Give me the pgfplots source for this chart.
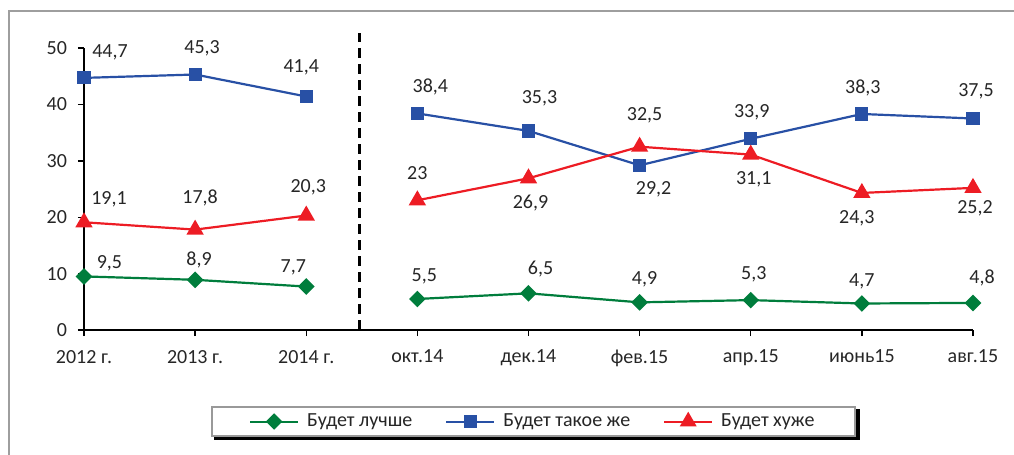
\documentclass[border=0pt]{standalone}
\usepackage{fontspec}
\setmainfont{Carlito}
\usepackage{pgfplots}
\usepackage{pgfplotstable}
\pgfplotsset{compat=1.18}

\definecolor{cGreen}{RGB}{0,125,60}
\definecolor{cBlue}{RGB}{40,80,165}
\definecolor{cRed}{RGB}{237,28,36}
\definecolor{cText}{RGB}{38,38,38}

% x y  label offset (dx, dy in pt)  label
\pgfplotstableread{
x y dx dy lbl
0 9.5 12.7 6.5 9,5
1 8.9 2 10 8,9
2 7.7 -6.5 9.8 7,7
3 5.5 3.5 11.5 5,5
4 6.5 6 12 6,5
5 4.9 2.5 11.5 4,9
6 5.3 1.5 13 5,3
7 4.7 0 11 4,7
8 4.8 4.5 12.5 4,8
}\better
\pgfplotstableread{
x y dx dy lbl
0 44.7 13 13 44,7
1 45.3 3.5 13 45,3
2 41.4 -2.5 14.7 41,4
3 38.4 6.5 13 38,4
4 35.3 5.5 16.5 35,3
5 29.2 7 -12 29,2
6 33.9 0.5 13.5 33,9
7 38.3 0.5 13 38,3
8 37.5 1.5 13.5 37,5
}\same
\pgfplotstableread{
x y dx dy lbl
0 19.1 12.5 11.5 19,1
1 17.8 2.5 16 17,8
2 20.3 1 14 20,3
3 23 0 13.5 23
4 26.9 1 -12.5 26,9
5 32.5 2.5 15.5 32,5
6 31.1 1.5 -12.5 31,1
7 24.3 -2.5 -12.5 24,3
8 25.2 1 -10 25,2
}\worse

\begin{document}
\fontsize{10}{12}\selectfont
\begin{tikzpicture}
\draw[black!38, line width=1pt] (-37.5pt,-80pt) rectangle (480pt,159.5pt);
\begin{axis}[
  at={(0,0)}, anchor=south west,
  scale only axis, width=444.5pt, height=141pt,
  xmin=0, xmax=8, ymin=0, ymax=50,
  axis lines*=left,
  axis line style={line width=1.3pt, black},
  tick align=outside, major tick length=3pt,
  tick style={black, line width=0.7pt},
  xtick={0,...,8},
  xticklabels={2012 г.,2013 г.,2014 г.,окт.14,дек.14,фев.15,апр.15,июнь15,авг.15},
  ytick={0,10,...,50},
  /pgf/number format/assume math mode=true,
  ticklabel style={text=cText},
  xticklabel style={yshift=-3.5pt},
  yticklabel style={xshift=-2pt},
  clip=false,
  legend columns=3,
  legend style={name=leg, at={(0.506,-0.3245)}, anchor=center, draw=black!40, line width=1pt,
    fill=white, inner xsep=18.5pt, inner ysep=1.4pt, text=cText,
    /tikz/every odd column/.append style={column sep=2pt},
    /tikz/every even column/.append style={column sep=14.5pt}},
  legend cell align=left,
  legend image code/.code={\draw[mark repeat=2,mark phase=2,#1] plot coordinates {(0pt,0pt)(12pt,0pt)(24pt,0pt)};},
  ser/.style={forget plot, line width=1.1pt, mark options={solid},
    nodes near coords={\pgfplotspointmeta},
    point meta=explicit symbolic,
    visualization depends on={\thisrow{dx}\as\myDX},
    visualization depends on={\thisrow{dy}\as\myDY},
    every node near coord/.append style={anchor=center, xshift=\myDX, yshift=\myDY, text=cText, inner sep=0pt}},
  gmark/.style={mark=square*, mark size=2.4pt, mark options={rotate=45, fill=cGreen}},
  bmark/.style={mark=square*, mark size=2.75pt, mark options={fill=cBlue}},
  rmark/.style={mark=triangle*, mark size=3.9pt, mark options={fill=cRed}},
]
\addplot[ser, cGreen, gmark, restrict x to domain=0:2] table[x=x, y=y, meta=lbl] {\better};
\addplot[ser, cGreen, gmark, restrict x to domain=3:8] table[x=x, y=y, meta=lbl] {\better};
\addplot[ser, cBlue, bmark, restrict x to domain=0:2] table[x=x, y=y, meta=lbl] {\same};
\addplot[ser, cBlue, bmark, restrict x to domain=3:8] table[x=x, y=y, meta=lbl] {\same};
\addplot[ser, cRed, rmark, restrict x to domain=0:2] table[x=x, y=y, meta=lbl] {\worse};
\addplot[ser, cRed, rmark, restrict x to domain=3:8] table[x=x, y=y, meta=lbl] {\worse};
\addplot[forget plot, black, line width=1.3pt, dash pattern=on 5pt off 3pt] coordinates {(2.477,0) (2.477,52.66)};
\addlegendimage{cGreen, line width=1pt, gmark}
\addlegendentry{Будет лучше}
\addlegendimage{cBlue, line width=1pt, bmark}
\addlegendentry{Будет такое же}
\addlegendimage{cRed, line width=1pt, rmark}
\addlegendentry{Будет хуже}
\end{axis}
% legend shadow, right and bottom strips
\fill[black] ([shift={(1.6pt,-1.6pt)}]leg.south west) rectangle ([xshift=1.6pt]leg.south east);
\fill[black] ([yshift=-1.6pt]leg.south east) rectangle ([shift={(1.6pt,-1.6pt)}]leg.north east);
\pgfresetboundingbox
\path[use as bounding box] (-42pt,-62.5pt) rectangle (465pt,165pt);
\end{tikzpicture}
\end{document}
